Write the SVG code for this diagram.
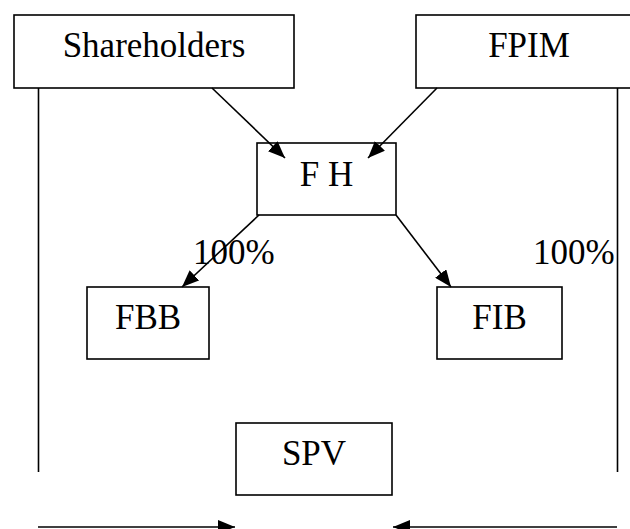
<svg xmlns="http://www.w3.org/2000/svg" width="630" height="529" viewBox="0 0 630 529">
<defs>
<marker id="ah" markerUnits="userSpaceOnUse" markerWidth="19" markerHeight="14" refX="17" refY="7" orient="auto">
<path d="M0,0 L17,7 L0,14 Z" fill="#000"/>
</marker>
<style>
.box{fill:#fff;stroke:#000;stroke-width:1.6}
.t{font-family:"Liberation Serif","Times New Roman",serif;font-size:35px;fill:#000}
.c{text-anchor:middle}
.ln{stroke:#000;stroke-width:1.6;fill:none}
.ar{stroke:#000;stroke-width:1.6;fill:none;marker-end:url(#ah)}
</style>
</defs>
<rect width="630" height="529" fill="#fff"/>
<g id="shareholders">
<rect class="box" x="14" y="15" width="280" height="73"/>
<text class="t c" x="154" y="57">Shareholders</text>
</g>
<g id="fpim">
<rect class="box" x="416" y="15" width="226" height="73"/>
<text class="t c" x="529" y="57">FPIM</text>
</g>
<g id="fh">
<rect class="box" x="257" y="143" width="139" height="72"/>
<text class="t c" x="326.5" y="186">F H</text>
</g>
<g id="fbb">
<rect class="box" x="87" y="287" width="122" height="72"/>
<text class="t c" x="148" y="329">FBB</text>
</g>
<g id="fib">
<rect class="box" x="437" y="287" width="125" height="72"/>
<text class="t c" x="499.5" y="329">FIB</text>
</g>
<g id="spv">
<rect class="box" x="236" y="423" width="156" height="72"/>
<text class="t c" x="314" y="465">SPV</text>
</g>
<g id="connectors">
<line class="ln" x1="38.5" y1="88" x2="38.5" y2="472"/>
<line class="ln" x1="617.5" y1="88" x2="617.5" y2="472"/>
<line class="ar" x1="212" y1="88" x2="285" y2="158"/>
<line class="ar" x1="437" y1="88" x2="368" y2="158"/>
<line class="ar" x1="259" y1="215" x2="182" y2="287"/>
<line class="ar" x1="396" y1="215" x2="451" y2="287"/>
<line class="ar" x1="38" y1="527" x2="235" y2="527"/>
<line class="ar" x1="617" y1="527" x2="393" y2="527"/>
</g>
<g id="labels">
<text class="t" x="193" y="264">100%</text>
<text class="t" x="533" y="264">100%</text>
</g>
</svg>
